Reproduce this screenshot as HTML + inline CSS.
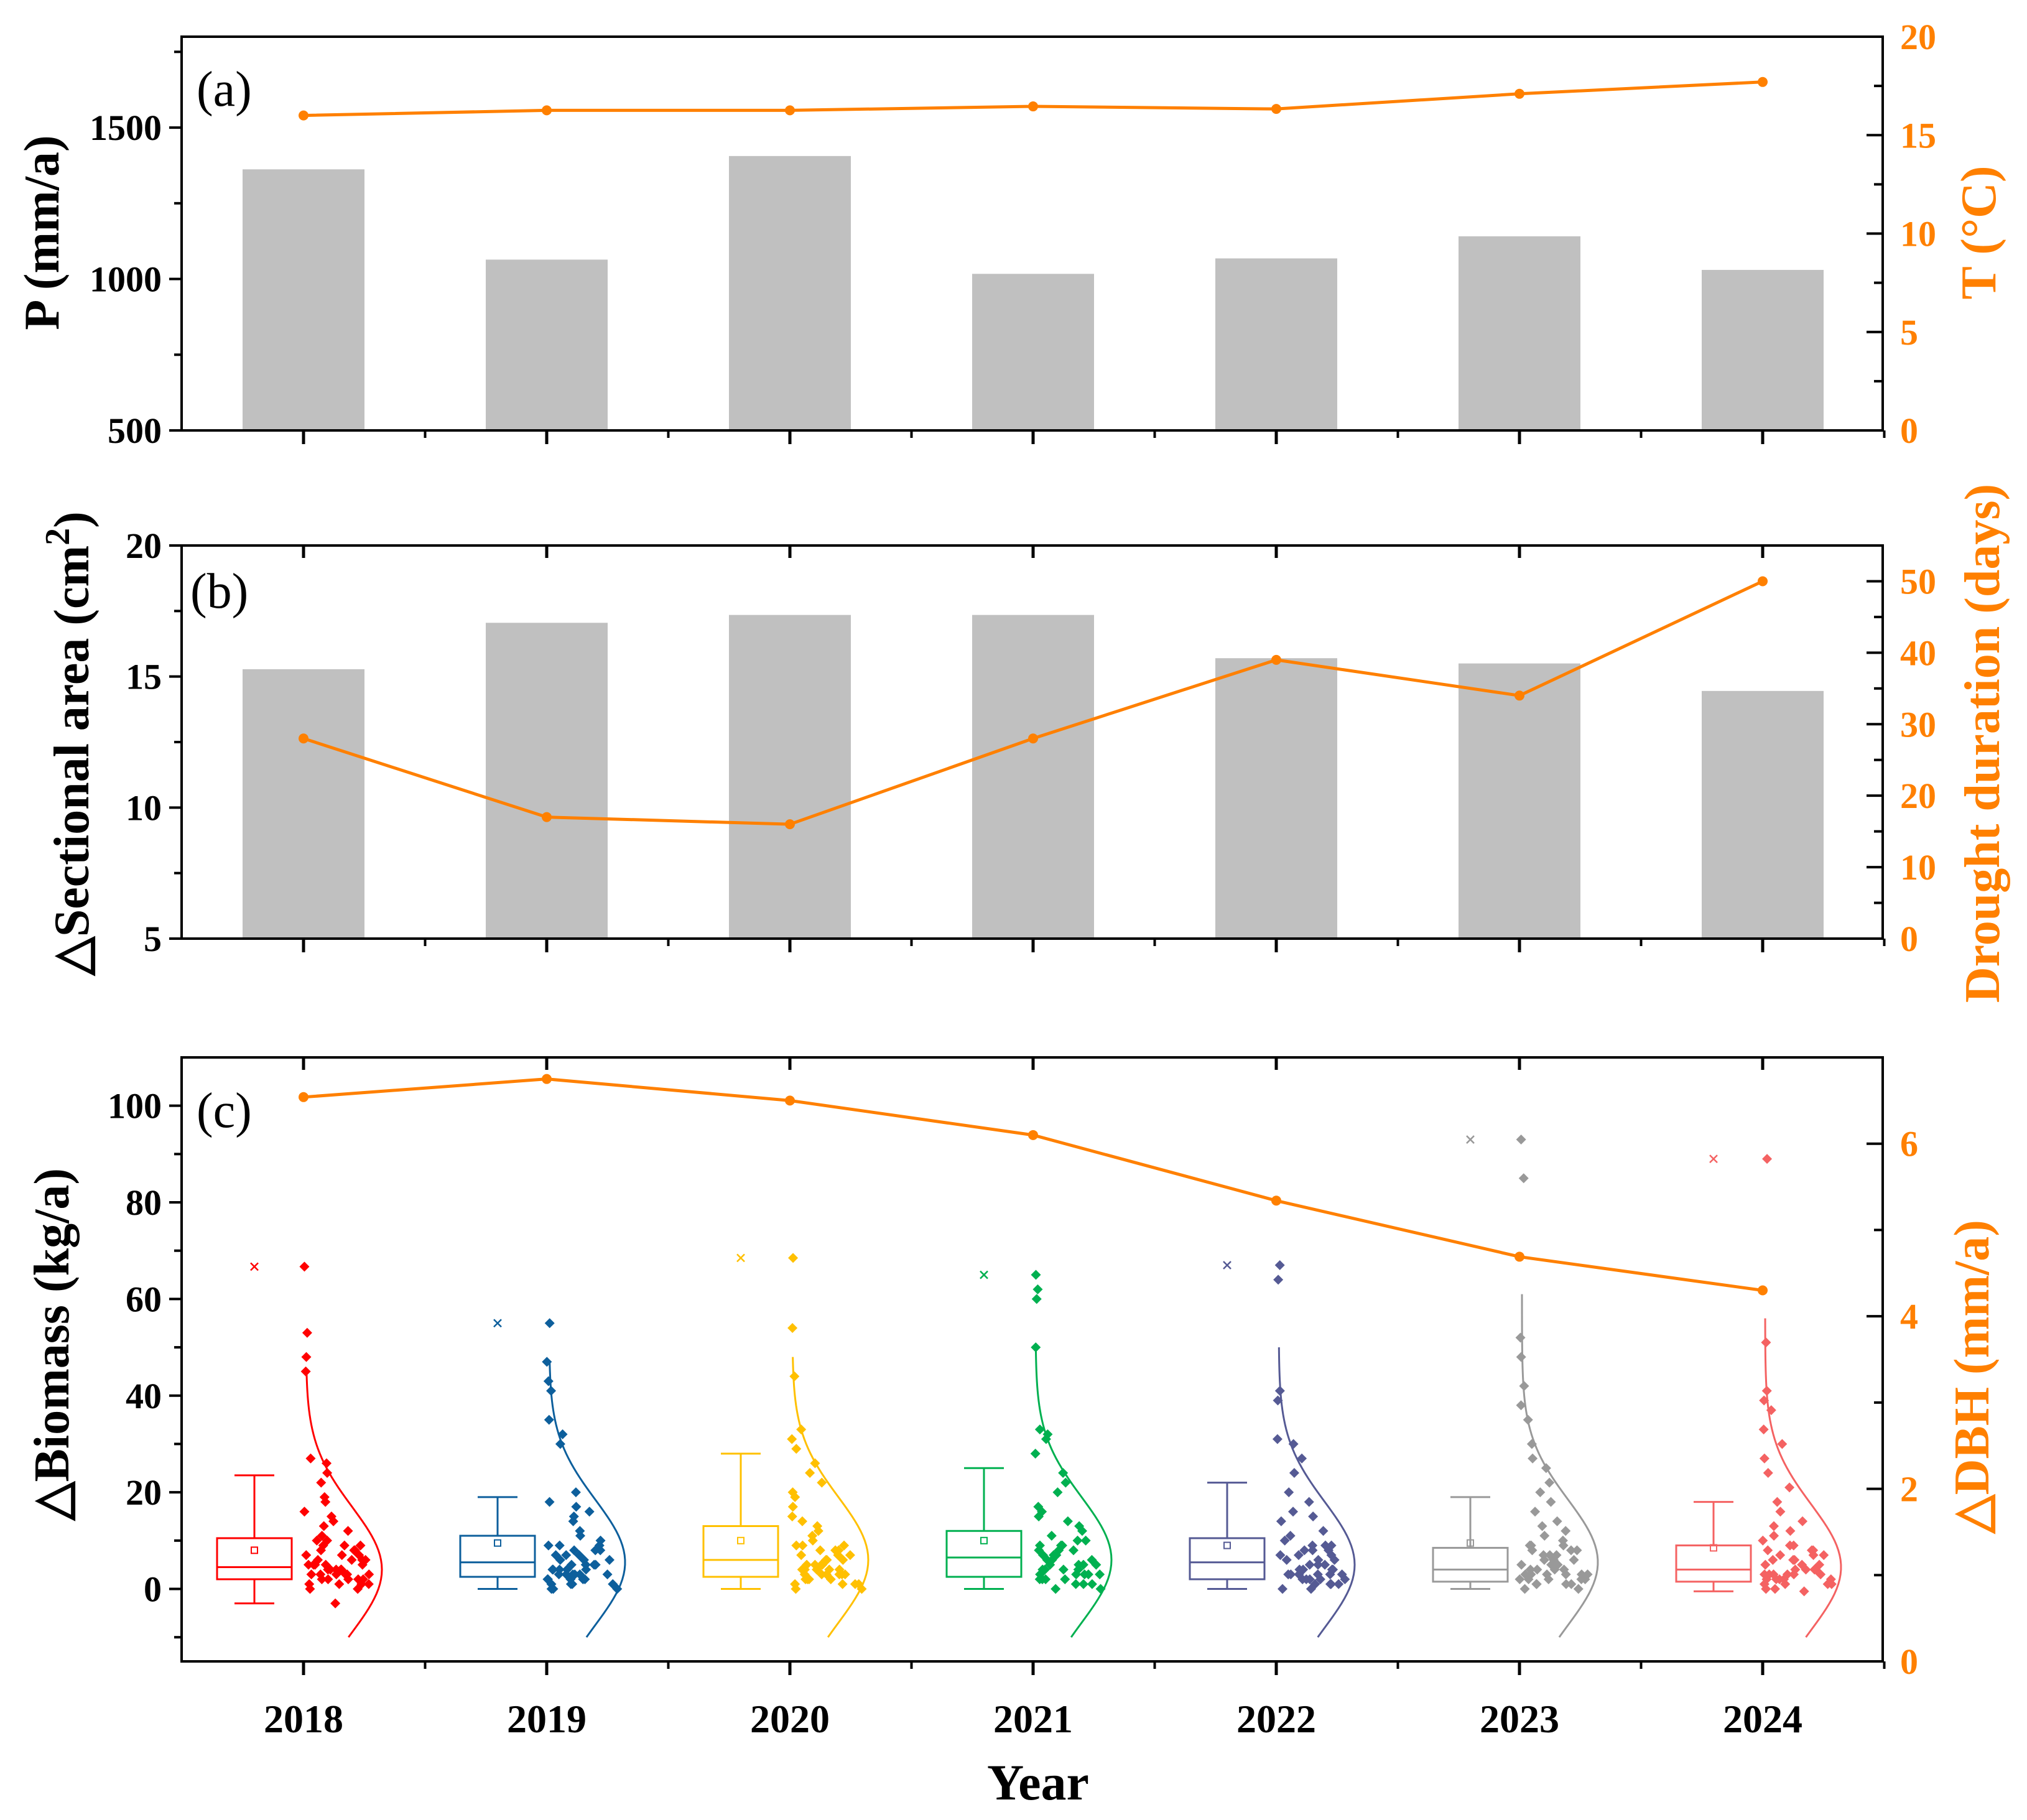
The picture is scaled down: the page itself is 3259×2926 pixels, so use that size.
<!DOCTYPE html>
<html><head><meta charset="utf-8"><style>
html,body{margin:0;padding:0;background:#fff}
svg{display:block}
text{font-family:"Liberation Serif",serif}
</style></head><body>
<svg id="chart" width="3259" height="2926" viewBox="0 0 3259 2926" xmlns="http://www.w3.org/2000/svg">
<g id="layer"></g>
<g id="static">
<text x="1669" y="2893" font-size="82" font-weight="bold" text-anchor="middle">Year</text>
<text x="316" y="170" font-size="80">(a)</text>
<text x="306" y="977" font-size="80">(b)</text>
<text x="316" y="1812" font-size="80">(c)</text>
<text transform="translate(94,374) rotate(-90)" font-size="80" font-weight="bold" text-anchor="middle">P (mm/a)</text>
<text transform="translate(142,1195) rotate(-90)" font-size="80" font-weight="bold" text-anchor="middle">△Sectional area (cm<tspan baseline-shift="super" font-size="56">2</tspan>)</text>
<text transform="translate(110,2161) rotate(-90)" font-size="80" font-weight="bold" text-anchor="middle">△Biomass (kg/a)</text>
<text transform="translate(3208,374) rotate(-90)" font-size="80" font-weight="bold" text-anchor="middle" fill="#ff8000">T (°C)</text>
<text transform="translate(3214,1195) rotate(-90)" font-size="80" font-weight="bold" text-anchor="middle" fill="#ff8000">Drought duration (days)</text>
<text transform="translate(3197,2213) rotate(-90)" font-size="80" font-weight="bold" text-anchor="middle" fill="#ff8000">△DBH (mm/a)</text>
</g>
</svg>
<script>
const years=["2018","2019","2020","2021","2022","2023","2024"];
const precip=[1362,1064,1406,1017,1068,1141,1030];
const temp=[16.0,16.26,16.26,16.46,16.33,17.1,17.7];
const sectArea=[15.28,17.05,17.35,17.35,15.7,15.5,14.45];
const drought=[28,17,16,28,39,34,50];
const dbh=[6.54,6.75,6.5,6.1,5.34,4.69,4.3];
const boxWhiskHi=[23.5,19,28,25,22,19,18];
const boxQ3=[10.5,11,13,12,10.5,8.5,9];
const boxMed=[4.5,5.5,6,6.5,5.5,4,4];
const boxQ1=[2,2.5,2.5,2.5,2,1.5,1.5];
const boxWhiskLo=[-3,0,0,0,0,0,-0.5];
const boxMean=[8,9.5,10,10,9,9.5,8.5];
const boxOutlier=[66.7,55,68.5,65,67,93,89];
const curveMax=[45,47,48,50,50,61,56];
const scat2018=[66.7,53,48,45,27,26,24,22,19,18,16,15,14,13,12,11,10,10,9,9,8,8,7,7,6,6,6,5,5,5,5,4,4,4,4,3,3,3,3,2,2,2,2,1,1,1,0,0,-3,6,7,3,2,4,5,1,8,9,3];
const scat2019=[55,47,43,41,35,32,30,20,18,17,16,15,14,12,11,10,9,9,8,8,7,7,6,6,5,5,5,4,4,4,4,3,3,3,3,2,2,2,2,1,1,1,0,0,0,6,7,3,2,4,5,1,8,9,3];
const scat2020=[68.5,54,44,33,31,29,26,24,22,20,19,17,15,14,13,12,11,10,9,9,8,8,7,7,6,6,5,5,5,4,4,4,4,3,3,3,3,2,2,2,1,1,1,0,0,6,7,3,2,4,5,1,8,9,3];
const scat2021=[65,62,60,50,33,32,31,28,24,22,20,17,16,15,14,13,12,11,10,10,9,9,8,8,7,7,6,6,5,5,5,4,4,4,3,3,3,2,2,2,1,1,0,0,6,7,3,2,4,5,1,8,9,3];
const scat2022=[67,64,41,39,31,30,27,24,20,18,16,15,14,12,11,10,9,9,8,8,7,7,6,6,5,5,4,4,4,3,3,3,3,2,2,2,2,1,1,1,0,0,6,7,3,2,4,5,1,8,9,3];
const scat2023=[93,85,52,48,42,38,35,30,27,25,22,20,18,16,14,13,12,11,10,9,9,8,8,7,7,6,6,5,5,4,4,4,3,3,3,3,2,2,2,2,1,1,1,0,0,6,7,3,2,4,5,1,8,9,3];
const scat2024=[89,51,41,39,37,33,30,27,24,21,18,16,14,13,12,11,10,9,8,8,7,7,6,6,5,5,4,4,4,3,3,3,3,2,2,2,2,1,1,1,0,0,-0.5,6,7,3,2,4,5,1,8,9,3];
const scatter=[scat2018,scat2019,scat2020,scat2021,scat2022,scat2023,scat2024];
const colors=["#ff0000","#0d5f9c","#ffc000","#00b050","#555a94","#999999","#f46262"];

const NS="http://www.w3.org/2000/svg";
const L=document.getElementById('layer');
function mk(tag,attrs,parent){const e=document.createElementNS(NS,tag);for(const k in attrs)e.setAttribute(k,attrs[k]);(parent||L).appendChild(e);return e;}
function txt(s,attrs){const e=mk('text',attrs);e.textContent=s;return e;}
const X0=292,X1=3027,ORANGE="#ff8000";
const x=i=>488+391*i;
const yP=v=>692-(v-500)*633/1300, yT=v=>692-v*633/20;
const yS=v=>1509-(v-5)*632/15, yD=v=>1509-v*632/55;
const yB=v=>2671-(v+15)*971/125, yDB=v=>2671-v*971/7;
const panels=[[59,692],[877,1509],[1700,2671]];

precip.forEach((v,i)=>{const r=mk('rect',{x:x(i)-98,y:yP(v),width:196,height:692-yP(v),fill:"#c0c0c0"});

});
sectArea.forEach((v,i)=>{const r=mk('rect',{x:x(i)-98,y:yS(v),width:196,height:1509-yS(v),fill:"#c0c0c0"});

});

function hash(n){const s=Math.sin(n*12.9898+78.233)*43758.5453;return s-Math.floor(s);}
years.forEach((yr,i)=>{
  const c=colors[i],bx=x(i)-79,w=120;
  const g=mk('g',{stroke:c,'stroke-width':3,fill:'none'});
  
  
  mk('rect',{x:bx-w/2,y:yB(boxQ3[i]),width:w,height:yB(boxQ1[i])-yB(boxQ3[i])},g);
  mk('line',{x1:bx-w/2,x2:bx+w/2,y1:yB(boxMed[i]),y2:yB(boxMed[i])},g);
  mk('line',{x1:bx,x2:bx,y1:yB(boxQ3[i]),y2:yB(boxWhiskHi[i])},g);
  mk('line',{x1:bx,x2:bx,y1:yB(boxQ1[i]),y2:yB(boxWhiskLo[i])},g);
  mk('line',{x1:bx-32,x2:bx+32,y1:yB(boxWhiskHi[i]),y2:yB(boxWhiskHi[i])},g);
  mk('line',{x1:bx-32,x2:bx+32,y1:yB(boxWhiskLo[i]),y2:yB(boxWhiskLo[i])},g);
  mk('rect',{x:bx-5,y:yB(boxMean[i])-5,width:10,height:10,'stroke-width':2},g);
  const oy=yB(boxOutlier[i]);
  mk('path',{d:`M${bx-6},${oy-6}L${bx+6},${oy+6}M${bx+6},${oy-6}L${bx-6},${oy+6}`,'stroke-width':2.5},g);
  const sg=mk('g',{fill:c});
  
  
  scatter[i].forEach((v,j)=>{
    const spread=Math.max(8,118*(1-Math.min(Math.max(v,0),40)/42));
    const px=x(i)+hash(j+i*100)*spread, py=yB(v);
    const d=mk('path',{d:`M${px},${py-8}L${px+8},${py}L${px},${py+8}L${px-8},${py}Z`},sg);
    
    
  });
  let pts=[];const sd=13;
  for(let v=-10;v<=curveMax[i];v+=1){pts.push([x(i)+4+122*Math.exp(-((v-boxMean[i]+4)**2)/(2*sd*sd)),yB(v)]);}
  const cp=mk('polyline',{points:pts.map(p=>p.join(',')).join(' '),fill:'none',stroke:c,'stroke-width':3});
  
  
});

function line(vals,yf,name){
  const p=mk('polyline',{points:vals.map((v,i)=>x(i)+','+yf(v)).join(' '),fill:'none',stroke:ORANGE,'stroke-width':5});
  
  
  vals.forEach((v,i)=>{const c=mk('circle',{cx:x(i),cy:yf(v),r:8,fill:ORANGE});
  
  });
}
line(temp,yT,'temperature');line(drought,yD,'drought-duration');line(dbh,yDB,'dbh');

panels.forEach(([t,b],k)=>{
  const r=mk('rect',{x:X0,y:t,width:X1-X0,height:b-t,fill:'none',stroke:'#000','stroke-width':4});
  
  
  for(let i=0;i<7;i++){
    mk('line',{x1:x(i),x2:x(i),y1:b,y2:b+22,stroke:'#000','stroke-width':5});
    mk('line',{x1:x(i)+195.5,x2:x(i)+195.5,y1:b,y2:b+12,stroke:'#000','stroke-width':4});
    if(k>0)mk('line',{x1:x(i),x2:x(i),y1:t,y2:t+20,stroke:'#000','stroke-width':5});
  }
});
function leftAxis(vals,minor,yf,name){
  vals.forEach(v=>{mk('line',{x1:X0-20,x2:X0,y1:yf(v),y2:yf(v),stroke:'#000','stroke-width':4});
  const t=txt(String(v),{x:X0-32,y:yf(v)+20,'font-size':58,'font-weight':'bold','text-anchor':'end'});
  
  });
  minor.forEach(v=>mk('line',{x1:X0-12,x2:X0,y1:yf(v),y2:yf(v),stroke:'#000','stroke-width':4}));
}
function rightAxis(vals,minor,yf,name){
  vals.forEach(v=>{mk('line',{x1:X1-26,x2:X1,y1:yf(v),y2:yf(v),stroke:'#000','stroke-width':4});
  const t=txt(String(v),{x:X1+28,y:yf(v)+20,'font-size':58,'font-weight':'bold',fill:ORANGE});
  
  });
  minor.forEach(v=>mk('line',{x1:X1-14,x2:X1,y1:yf(v),y2:yf(v),stroke:'#000','stroke-width':4}));
}
leftAxis([500,1000,1500],[750,1250,1750],yP,'precip');
rightAxis([0,5,10,15,20],[2.5,7.5,12.5,17.5],yT,'temperature');
leftAxis([5,10,15,20],[7.5,12.5,17.5],yS,'sectional-area');
rightAxis([0,10,20,30,40,50],[5,15,25,35,45],yD,'drought');
leftAxis([0,20,40,60,80,100],[-10,10,30,50,70,90],yB,'biomass');
rightAxis([0,2,4,6],[1,3,5],yDB,'dbh');

years.forEach((yr,i)=>{const t=txt(yr,{x:x(i),y:2785,'font-size':64,'font-weight':'bold','text-anchor':'middle'});

});
</script>
</body></html>
